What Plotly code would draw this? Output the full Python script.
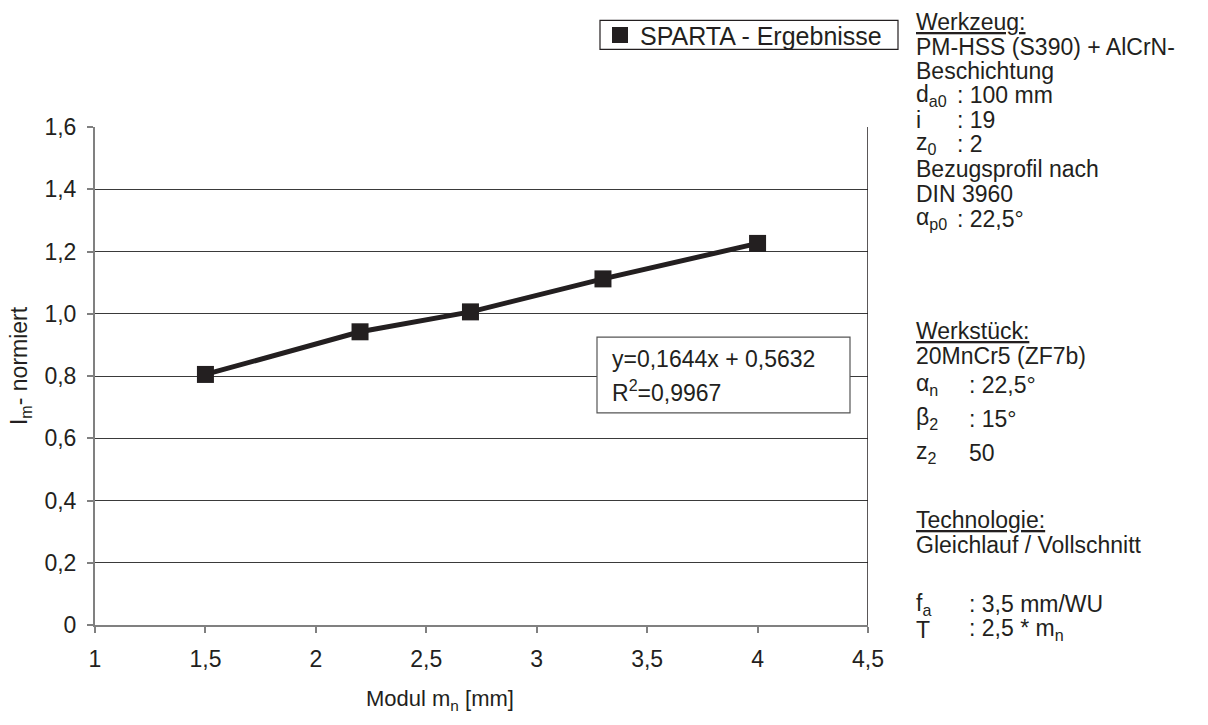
import plotly.graph_objects as go

# ---------------- data ----------------
modul = [1.5, 2.2, 2.7, 3.3, 4.0]
lm_normiert = [0.805, 0.942, 1.006, 1.112, 1.226]

x_tickvals = [1, 1.5, 2, 2.5, 3, 3.5, 4, 4.5]
x_ticktext = ["1", "1,5", "2", "2,5", "3", "3,5", "4", "4,5"]
y_tickvals = [0, 0.2, 0.4, 0.6, 0.8, 1.0, 1.2, 1.4, 1.6]
y_ticktext = ["0", "0,2", "0,4", "0,6", "0,8", "1,0", "1,2", "1,4", "1,6"]

series_name = "SPARTA - Ergebnisse"
equation_lines = ["y=0,1644x + 0,5632", "R<sup>2</sup>=0,9967"]

# info panel: (label, value) ; value None -> single text
info_lines = [
    ("<u>Werkzeug:</u>", None),
    ("PM-HSS (S390) + AlCrN-", None),
    ("Beschichtung", None),
    ("d<sub>a0</sub>", ": 100 mm"),
    ("i", ": 19"),
    ("z<sub>0</sub>", ": 2"),
    ("Bezugsprofil nach", None),
    ("DIN 3960", None),
    ("α<sub>p0</sub>", ": 22,5°"),
    ("<u>Werkstück:</u>", None),
    ("20MnCr5 (ZF7b)", None),
    ("α<sub>n</sub>", ": 22,5°"),
    ("β<sub>2</sub>", ": 15°"),
    ("z<sub>2</sub>", "50"),
    ("<u>Technologie:</u>", None),
    ("Gleichlauf / Vollschnitt", None),
    ("f<sub>a</sub>", ": 3,5 mm/WU"),
    ("T", ": 2,5 * m<sub>n</sub>"),
]
# layout of the info panel (pixel y centers, value column x)
info_y = [20, 45, 69, 93, 118, 142, 167, 192, 217, 330, 355, 384, 418, 452, 520, 545, 604, 630]
info_valx = [None, None, None, 955, 955, 955, None, None, 955, None, None, 967, 967, 967, None, None, 967, 967]

# ---------------- layout helpers ----------------
W, H = 1208, 725
L, R, T, B = 95, 868, 125, 625
FONT = "Liberation Sans, Arial, Helvetica, sans-serif"
INK = "#231f20"
FS = 23


def px(x):
    return (x - L) / (R - L)


def py(y):
    return (B - y) / (B - T)


fig = go.Figure()
fig.add_trace(go.Scatter(
    x=modul, y=lm_normiert, mode="lines+markers",
    line=dict(color=INK, width=5),
    marker=dict(symbol="square", size=17, color=INK),
    showlegend=False, hoverinfo="skip",
))
fig.add_trace(go.Scatter(
    x=[None], y=[None], mode="markers", name=series_name,
    marker=dict(symbol="square", size=17, color=INK),
))

annotations = []
# equation text
for i, t in enumerate(equation_lines):
    annotations.append(dict(
        text=t, x=px(610), y=py(358 + 32 * i), xref="paper", yref="paper",
        xanchor="left", yanchor="middle", showarrow=False,
        font=dict(family=FONT, size=FS, color=INK)))

# info panel
for (lab, val), yy, vx in zip(info_lines, info_y, info_valx):
    annotations.append(dict(
        text=lab, x=px(914), y=py(yy), xref="paper", yref="paper",
        xanchor="left", yanchor="middle", showarrow=False,
        font=dict(family=FONT, size=FS, color=INK)))
    if val is not None:
        annotations.append(dict(
            text=val, x=px(vx), y=py(yy), xref="paper", yref="paper",
            xanchor="left", yanchor="middle", showarrow=False,
            font=dict(family=FONT, size=FS, color=INK)))

# axis titles
annotations.append(dict(
    text="I<sub>m</sub>- normiert", x=px(20), y=py(365), xref="paper", yref="paper",
    textangle=-90, showarrow=False, xanchor="center", yanchor="middle",
    font=dict(family=FONT, size=FS, color=INK)))
annotations.append(dict(
    text="Modul m<sub>n</sub> [mm]", x=px(440), y=py(700), xref="paper", yref="paper",
    showarrow=False, xanchor="center", yanchor="middle",
    font=dict(family=FONT, size=22, color=INK)))

shapes = [
    # equation box
    dict(type="rect", xref="paper", yref="paper",
         x0=px(597), x1=px(850), y0=py(412), y1=py(336),
         line=dict(color="#555555", width=1.2), fillcolor="white", layer="above"),
    # right border of the plot area
    dict(type="line", xref="x", yref="y", x0=4.5, x1=4.5, y0=0, y1=1.6,
         line=dict(color=INK, width=1.5), layer="above"),
    # legend frame
    dict(type="rect", xref="paper", yref="paper",
         x0=px(600), x1=px(898), y0=py(47), y1=py(18),
         line=dict(color=INK, width=1.2), fillcolor="rgba(0,0,0,0)", layer="above"),
]

fig.update_layout(
    width=W, height=H,
    margin=dict(l=L, r=W - R, t=T, b=H - B),
    paper_bgcolor="white", plot_bgcolor="white",
    font=dict(family=FONT, size=FS, color=INK),
    xaxis=dict(range=[1, 4.5], tickvals=x_tickvals, ticktext=x_ticktext,
               showgrid=False, zeroline=False, showline=True,
               linecolor="#808080", linewidth=2, ticks="outside",
               ticklen=6, tickcolor="#808080", tickwidth=1.5,
               ticklabelstandoff=6,
               tickfont=dict(family=FONT, size=FS, color=INK)),
    yaxis=dict(range=[0, 1.6], tickvals=y_tickvals, ticktext=y_ticktext,
               showgrid=True, gridcolor="#3a3a3a", gridwidth=1, zeroline=False,
               showline=True, linecolor="#808080", linewidth=2, ticks="outside",
               ticklen=6, tickcolor="#808080", tickwidth=1.5,
               ticklabelstandoff=6,
               tickfont=dict(family=FONT, size=FS, color=INK)),
    legend=dict(x=px(600), y=py(33), xanchor="left", yanchor="middle",
                borderwidth=0, bgcolor="rgba(0,0,0,0)",
                font=dict(family=FONT, size=25, color=INK),
                itemwidth=30, tracegroupgap=0),
    annotations=annotations,
    shapes=shapes,
)

fig.write_html("out.html")
